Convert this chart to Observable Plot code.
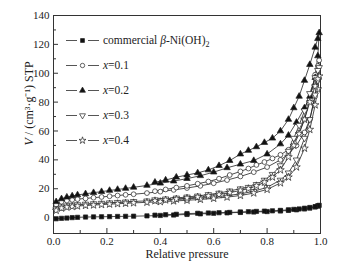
<!DOCTYPE html>
<html><head><meta charset="utf-8">
<script src="https://cdn.jsdelivr.net/npm/d3@7"></script>
<script src="https://cdn.jsdelivr.net/npm/@observablehq/plot@0.6"></script>
<style>body{margin:0;background:#fff}#chart{width:350px;height:267px}</style>
</head><body><div id="chart"></div>
<script>
// ---- data ----
const seriesNames = ["commercial β-Ni(OH)2", "x=0.1", "x=0.2", "x=0.3", "x=0.4"];
const adsP = [0.01,0.03,0.05,0.07,0.09,0.12,0.15,0.18,0.21,0.24,0.27,0.30,0.35,0.40,0.45,0.50,0.55,0.60,0.65,0.70,0.75,0.80,0.85,0.88,0.91,0.94,0.96,0.98,0.99,0.995];
const desP = [0.99,0.98,0.96,0.94,0.92,0.90,0.88,0.85,0.82,0.79,0.76,0.73,0.70,0.66,0.62,0.58,0.54,0.50,0.46,0.42,0.38];
const commercialAds = [-0.8,-0.5,-0.3,0,0.2,0.4,0.5,0.6,0.7,0.8,0.9,1.0,1.2,1.5,1.8,2.2,2.6,3.0,3.3,3.6,3.9,4.2,4.6,5.0,5.4,6.0,6.6,7.4,8.0,8.5];
const commercialDes = [8.2,7.6,7.0,6.5,6.0,5.7,5.4,5.0,4.7,4.5,4.3,4.1,3.9,3.6,3.4,3.2,3.0,2.8,2.3,2.0,1.7];
const x01Ads = [9,11,11.8,12.3,12.8,13.3,13.8,14.3,14.8,15.3,15.8,16.2,17,18,19.2,20.5,22,23.8,26,28.5,31.5,35,40,44,50,59,68,84,97,109];
const x01Des = [105,99,82,68,59,52,47,43.5,41,38.5,36.5,34,32,29.5,27,25,23.5,22,20.8,19.5,18.3];
const x02Ads = [11,13,14.2,15,15.7,16.5,17.3,18,18.8,19.5,20.2,21,22.3,23.8,25.3,27,29,31.5,34.5,37,39.5,44,51,57,66,76,84,97,112,128];
const x02Des = [124,118,106,95,84,76,68,60,55,52,49,46.5,44,39.5,36,33,31,29.5,28,26,24.5];
const x03Ads = [6,7.5,8.2,8.7,9,9.4,9.7,10,10.3,10.6,10.9,11.2,11.6,12,12.5,13,13.6,14.3,15.2,16.5,18.2,21,26,31,40,55,68,85,95,104];
const x03Des = [102,97,86,74,64,55,46,36,30,26,23,21,20,18.5,17,16,15,14.3,13.6,13,12.4];
const x04Ads = [5,6.5,7.2,7.7,8,8.4,8.7,9,9.3,9.6,9.9,10.2,10.6,11,11.5,12,12.6,13.3,14.2,15.3,17,19.5,24,28,35,48,61,78,89,98];
const x04Des = [96,91,80,68,58,50,42,33,28,24.5,22,20,18.8,17.3,16,15,14.2,13.5,12.8,12.2,11.6];
const xTicks = [0, 0.2, 0.4, 0.6, 0.8, 1.0];
const xMinorTicks = [0.1, 0.3, 0.5, 0.7, 0.9];
const yTicks = [0, 20, 40, 60, 80, 100, 120, 140];
const yMinorTicks = [10, 30, 50, 70, 90, 110, 130];
const xLabel = "Relative pressure";
const yLabel = "V / (cm³·g⁻¹) STP";

// ---- build table ----
const adsSets = [commercialAds, x01Ads, x02Ads, x03Ads, x04Ads];
const desSets = [commercialDes, x01Des, x02Des, x03Des, x04Des];
const rows = [];
seriesNames.forEach((name, i) => {
  adsP.forEach((p, j) => rows.push({series: name, p, v: adsSets[i][j]}));
  desP.forEach((p, j) => rows.push({series: name, p, v: desSets[i][j]}));
});

const styles = {
  [seriesNames[0]]: {symbol: "square", d3sym: d3.symbolSquare, fill: "#111", rotate: 0},
  [seriesNames[1]]: {symbol: "circle", d3sym: d3.symbolCircle, fill: "white", rotate: 0},
  [seriesNames[2]]: {symbol: "triangle", d3sym: d3.symbolTriangle, fill: "#111", rotate: 0},
  [seriesNames[3]]: {symbol: "triangle", d3sym: d3.symbolTriangle, fill: "white", rotate: 180},
  [seriesNames[4]]: {symbol: "star", d3sym: d3.symbolStar, fill: "white", rotate: 0}
};

const W = 350, H = 267, mL = 53, mR = 30, mT = 15, mB = 34;
const fw = W - mL - mR, fh = H - mT - mB;
const ink = "#222";
const dotR = 2.4;

const marks = [
  Plot.frame({stroke: "#333", strokeWidth: 1}),
  Plot.axisX({ticks: xTicks, tickSize: 0, tickPadding: 4, tickFormat: d => d.toFixed(1), label: null}),
  Plot.axisY({ticks: yTicks, tickSize: 0, tickPadding: 4, label: null}),
  Plot.tickX(xTicks, {x: d => d, insetTop: fh - 5, stroke: "#333"}),
  Plot.tickX(xMinorTicks, {x: d => d, insetTop: fh - 3, stroke: "#333"}),
  Plot.tickY(yTicks, {y: d => d, insetRight: fw - 5, stroke: "#333"}),
  Plot.tickY(yMinorTicks, {y: d => d, insetRight: fw - 3, stroke: "#333"}),
  Plot.text([xLabel], {frameAnchor: "bottom", dy: 24, fontSize: 12, fill: ink}),
  Plot.text([yLabel], {frameAnchor: "left", dx: -24, dy: 21, rotate: -90, fontSize: 12, fill: ink}),
  Plot.line(rows, {x: "p", y: "v", z: "series", stroke: ink, strokeWidth: 0.8})
];
seriesNames.forEach(name => {
  const s = styles[name];
  marks.push(Plot.dot(rows.filter(r => r.series === name), {
    x: "p", y: "v", symbol: () => s.symbol, r: dotR, fill: s.fill, stroke: ink, strokeWidth: 0.7, rotate: s.rotate
  }));
});

const chart = Plot.plot({
  width: W, height: H,
  marginLeft: mL, marginRight: mR, marginTop: mT, marginBottom: mB,
  style: {fontFamily: "'Liberation Serif', 'Times New Roman', serif", fontSize: "11px", background: "white", color: ink},
  x: {domain: [0, 1]},
  y: {domain: [-11, 140]},
  marks
});
document.getElementById("chart").appendChild(chart);

// ---- legend (inside the frame, top-left) ----
const svg = d3.select(chart);
const lg = svg.append("g")
  .attr("font-family", "'Liberation Serif', 'Times New Roman', serif")
  .attr("font-size", 11.5)
  .attr("text-anchor", "start");
seriesNames.forEach((name, i) => {
  const s = styles[name];
  const y = mT + 25 + i * 25;
  const row = lg.append("g").attr("transform", `translate(${mL},${y})`);
  row.append("line").attr("x1", 13).attr("x2", 24).attr("y1", 0.5).attr("y2", 0.5).attr("stroke", "#555");
  row.append("line").attr("x1", 35).attr("x2", 46).attr("y1", 0.5).attr("y2", 0.5).attr("stroke", "#555");
  row.append("path")
    .attr("transform", `translate(29.5,0.5) rotate(${s.rotate})`)
    .attr("d", d3.symbol(s.d3sym, Math.PI * 2.2 * 2.2)())
    .attr("fill", s.fill).attr("stroke", ink).attr("stroke-width", 0.7);
  const t = row.append("text").attr("x", 50).attr("y", 0).attr("dy", "0.32em")
    .attr("text-anchor", "start").attr("fill", ink);
  if (i === 0) {
    t.append("tspan").text("commercial ");
    t.append("tspan").attr("font-style", "italic").text("β");
    t.append("tspan").text("-Ni(OH)");
    t.append("tspan").attr("font-size", "8px").attr("dy", "3").text("2");
  } else {
    t.append("tspan").attr("font-style", "italic").text("x");
    t.append("tspan").text(name.slice(1));
  }
});

// italic V in the y label
svg.selectAll("text").each(function() {
  if (this.textContent === yLabel) {
    const el = d3.select(this);
    el.text("");
    el.append("tspan").attr("font-style", "italic").text("V");
    el.append("tspan").text(yLabel.slice(1));
  }
});
</script>
</body></html>
